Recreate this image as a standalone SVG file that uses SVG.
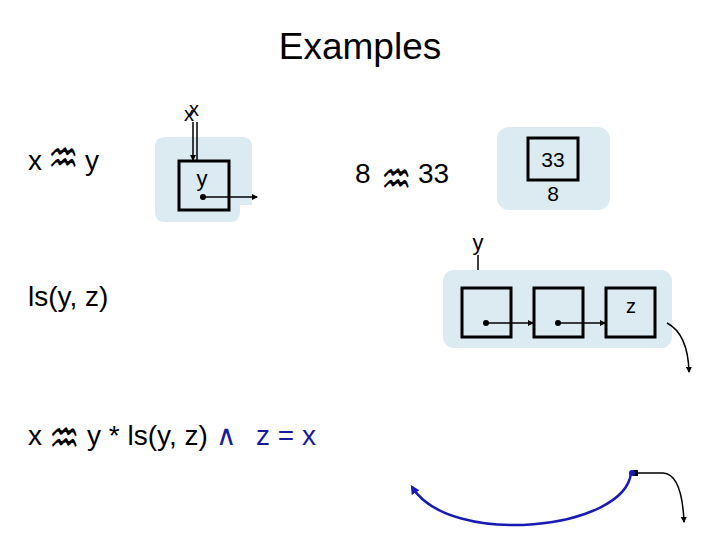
<svg xmlns="http://www.w3.org/2000/svg" width="720" height="540" viewBox="0 0 720 540">
<defs>
<style>
.t{font-family:"Liberation Sans",Arial,sans-serif;fill:#000}
.sym{font-family:"DejaVu Sans",sans-serif;fill:#000;font-size:34px}
.bg{fill:#DCEBF2}
.cell{fill:none;stroke:#000;stroke-width:3}
.ptr{fill:none;stroke:#000;stroke-width:1.5}
.blue{fill:#1A1A9C}
</style>
<marker id="ah" viewBox="0 0 6 6" refX="5" refY="3" markerWidth="6" markerHeight="6" markerUnits="userSpaceOnUse" orient="auto">
<path d="M0,0 L6,3 L0,6 z" fill="#000"/>
</marker>
<marker id="ahb" viewBox="0 0 8 8" refX="6" refY="4" markerWidth="9" markerHeight="9" markerUnits="userSpaceOnUse" orient="auto">
<path d="M0,0 L8,4 L0,8 z" fill="#1A1AB4"/>
</marker>
</defs>
<rect width="720" height="540" fill="#fff"/>
<text class="t" x="360" y="59" font-size="37" text-anchor="middle">Examples</text>

<g id="formula1">
<text class="t" x="28" y="170" font-size="28">x</text>
<text class="sym" transform="translate(48,151) scale(1,1.35)" x="0" y="17">♒</text>
<text class="t" x="85" y="170" font-size="28">y</text>
</g>

<g id="heap1">
<path class="bg" d="M165,137 H242 Q252,137 252,147 V205 H240 V212 Q240,222 230,222 H165 Q155,222 155,212 V147 Q155,137 165,137 Z"/>
<rect class="cell" x="179" y="161" width="50" height="49"/>
<text class="t" x="202" y="186" font-size="22" text-anchor="middle">y</text>
<text class="t" x="184" y="121" font-size="20">x<tspan dx="-5" dy="-5">x</tspan></text>
</g>

<g id="formula2">
<text class="t" x="355" y="183" font-size="28">8</text>
<text class="sym" transform="translate(381,172) scale(1,1.35)" x="0" y="17">♒</text>
<text class="t" x="418" y="183" font-size="28">33</text>
</g>

<g id="heap2">
<rect class="bg" x="497" y="127" width="113" height="83" rx="12"/>
<rect class="cell" x="528" y="138" width="50" height="42"/>
<text class="t" x="553" y="167" font-size="21" text-anchor="middle">33</text>
<text class="t" x="553" y="201" font-size="21" text-anchor="middle">8</text>
</g>

<g id="formula3">
<text class="t" x="28" y="306" font-size="28">ls(y, z)</text>
</g>

<g id="list">
<rect class="bg" x="443" y="270" width="229" height="78" rx="11"/>
<text class="t" x="478" y="250" font-size="22" text-anchor="middle">y</text>
<rect class="cell" x="462" y="288" width="49" height="49"/>
<rect class="cell" x="534" y="288" width="49" height="49"/>
<rect class="cell" x="606" y="288" width="49" height="49"/>
<text class="t" x="631" y="313" font-size="20" text-anchor="middle">z</text>
</g>

<g id="formula4">
<text class="t" x="28" y="445" font-size="28">x</text>
<text class="sym" transform="translate(49,431) scale(1,1.35)" x="0" y="17">♒</text>
<text class="t" x="87" y="445" font-size="28">y * ls(y, z)</text>
<text class="t blue" x="216" y="445" font-size="28">∧</text>
<text class="t blue" x="256" y="445" font-size="28">z = x</text>
</g>

<g id="connectors">
<line class="ptr" x1="193" y1="122" x2="193" y2="160" marker-end="url(#ah)"/>
<line class="ptr" x1="197" y1="122" x2="197" y2="160"/>
<circle cx="203" cy="197" r="3" fill="#000"/>
<line class="ptr" x1="203" y1="197" x2="257" y2="197" marker-end="url(#ah)"/>
<line class="ptr" x1="478" y1="255" x2="478" y2="270"/>
<circle cx="486" cy="323" r="3" fill="#000"/>
<line class="ptr" x1="486" y1="323" x2="533" y2="323" marker-end="url(#ah)"/>
<circle cx="558" cy="323" r="3" fill="#000"/>
<line class="ptr" x1="558" y1="323" x2="605" y2="323" marker-end="url(#ah)"/>
<path class="ptr" d="M667,323 Q688,334 689,372" marker-end="url(#ah)"/>
<path class="ptr" d="M635,473 H663 Q682,474 684,522" marker-end="url(#ah)"/>
<rect x="633" y="470" width="5" height="6" fill="#000"/>
<circle cx="632" cy="473" r="3" fill="#1A1AB4"/>
<path d="M631,473 C625,530 450,548 412,487" fill="none" stroke="#1A1AB4" stroke-width="2.5" marker-end="url(#ahb)"/>
</g>
</svg>
